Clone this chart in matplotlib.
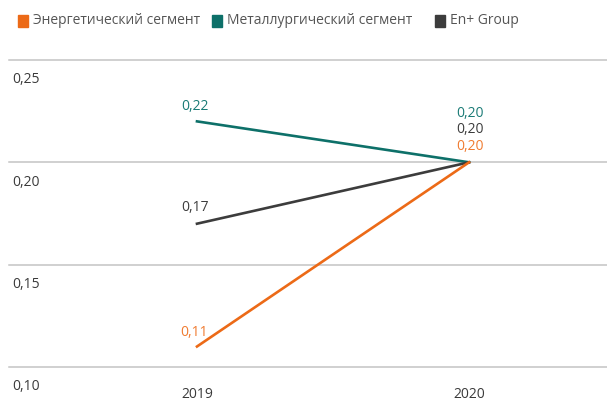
import matplotlib
matplotlib.use("Agg")
import matplotlib.pyplot as plt
from matplotlib.patches import Rectangle

plt.rcParams['font.family'] = ['Open Sans', 'DejaVu Sans']

years = [2019, 2020]
series = ["Энергетический сегмент", "Металлургический сегмент", "En+ Group"]
energy = [0.11, 0.20]
metal = [0.22, 0.20]
group = [0.17, 0.20]
y_ticks = [0.10, 0.15, 0.20, 0.25]

c_energy = "#EC6A17"
c_metal = "#0D7069"
c_group = "#3C3C3C"
c_energy_txt = "#F07B30"
c_metal_txt = "#1A7B76"
fs = 10

fig = plt.figure(figsize=(6.07, 4.03), dpi=100)
ax = fig.add_axes([0, 0, 1, 1])
ax.set_xlim(2018.276, 2020.507)
ax.set_ylim(0.0824, 0.2793)
ax.axis("off")

# horizontal grid with tick labels underneath
for t in y_ticks:
    ax.axhline(t, xmin=9 / 607, xmax=1, color="#C4C4C4", lw=1.1, zorder=1)
    ax.annotate(f"{t:.2f}".replace(".", ","), (2018.276, t),
                xytext=(12, -20), textcoords="offset pixels",
                ha="left", va="center", fontsize=fs, color="#3A3A3A")

for yr in years:
    ax.annotate(str(yr), (yr, min(y_ticks)), xytext=(0, -28),
                textcoords="offset pixels", ha="center", va="center",
                fontsize=fs, color="#3A3A3A")

ax.plot(years, metal, color=c_metal, lw=1.9, zorder=3)
ax.plot(years, group, color=c_group, lw=1.9, zorder=3)
ax.plot(years, energy, color=c_energy, lw=1.9, zorder=4)

def fmt(v):
    return f"{v:.2f}".replace(".", ",")

# values for 2019
ax.annotate(fmt(metal[0]), (years[0], metal[0]), xytext=(-2, 15),
            textcoords="offset pixels", ha="center", va="center",
            fontsize=fs, color=c_metal_txt)
ax.annotate(fmt(group[0]), (years[0], group[0]), xytext=(-2, 16),
            textcoords="offset pixels", ha="center", va="center",
            fontsize=fs, color=c_group)
ax.annotate(fmt(energy[0]), (years[0], energy[0]), xytext=(-3, 14),
            textcoords="offset pixels", ha="center", va="center",
            fontsize=fs, color=c_energy_txt)

# values for 2020 stacked above the shared point
for v, col, dy in [(energy[1], c_energy_txt, 16), (group[1], c_group, 33),
                   (metal[1], c_metal_txt, 49)]:
    ax.annotate(fmt(v), (years[1], v), xytext=(1, dy),
                textcoords="offset pixels", ha="center", va="center",
                fontsize=fs, color=col)

# legend row
legend_x = [18, 212, 435]
for name, col, lx in zip(series, [c_energy, c_metal, c_group], legend_x):
    fig.patches.append(Rectangle((lx / 607, 1 - 27 / 403), 10 / 607, 12 / 403,
                                 transform=fig.transFigure, color=col))
    fig.text((lx + 15) / 607, 1 - 21 / 403, name, ha="left", va="center",
             fontsize=fs, color="#555555")

fig.savefig("out.png", dpi=100)
